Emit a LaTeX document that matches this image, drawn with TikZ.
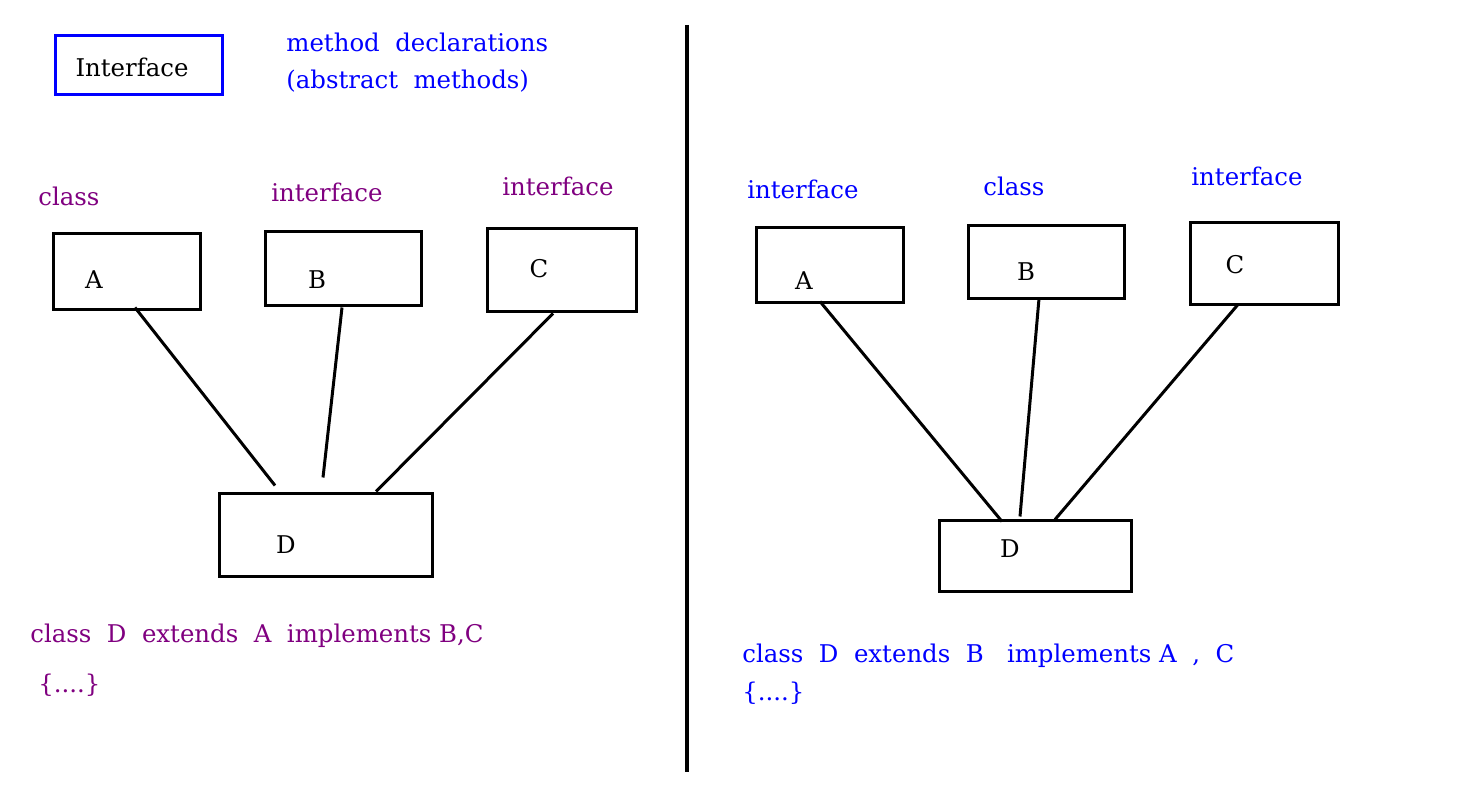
\documentclass[tikz,border=0pt]{standalone}
\usepackage{fontspec}
\setmainfont{DejaVu Serif}
\usetikzlibrary{calc}
\definecolor{clspurple}{RGB}{128,0,128}
\definecolor{ifblue}{RGB}{0,0,255}
\begin{document}
\begin{tikzpicture}[x=0.5pt, y=-0.5pt]
      \tikzstyle{every node}=[inner sep=0pt, font=\fontsize{12.2}{14}\selectfont]
      \tikzstyle{box}=[draw, line width=1.5pt, rectangle]
      \tikzstyle{txt}=[anchor=base west]
      \tikzstyle{conn}=[line width=1.5pt]
      \useasboundingbox (0,0) rectangle (1481,795);

      % legend
      \path (138.5,65.5) node[box, draw=ifblue, minimum width=83.5pt, minimum height=29.5pt] (legend) {};
      \path (132,77) node[anchor=base] (legendtxt) {Interface};
      \path (286,52) node[txt, ifblue] (decl1) {method~~declarations};
      \path (286,89) node[txt, ifblue] (decl2) {(abstract~~methods)};

      % divider
      \coordinate (top) at (687,25);
      \coordinate (bot) at (687,772);
      \draw[line width=1.7pt] (top) -- (bot);

      % left side
      \path (38,206) node[txt, clspurple] (lkA) {class};
      \path (271,202) node[txt, clspurple] (lkB) {interface};
      \path (502,196) node[txt, clspurple] (lkC) {interface};

      \path (126.5,272) node[box, minimum width=73.5pt, minimum height=38pt] (lA) {};
      \path (343,269) node[box, minimum width=78pt, minimum height=37pt] (lB) {};
      \path (561.5,270.5) node[box, minimum width=74.5pt, minimum height=41.5pt] (lC) {};
      \path (325.5,535) node[box, minimum width=106.5pt, minimum height=41pt] (lD) {};

      \path (94,289) node[anchor=base] (lAt) {A};
      \path (317,289) node[anchor=base] (lBt) {B};
      \path (539,278) node[anchor=base] (lCt) {C};
      \path (286,553) node[anchor=base] (lDt) {D};

      \draw[conn]
        ($(lA.south)+(8.5,-4)$) -- ($(lD.north)+(-50.5,-7)$)
        ($(lB.south)+(-1,0)$) -- ($(lD.north)+(-2.5,-15)$)
        ($(lC.south)+(-8.5,0)$) -- ($(lD.north)+(50.5,-1)$);

      \path (30,642) node[txt, clspurple] (lcode) {class~~D~~extends~~A~~implements B,C};
      \path (38,692) node[txt, clspurple] (lbody) {\{....\}};

      % right side
      \path (747,199) node[txt, ifblue] (rkA) {interface};
      \path (983,196) node[txt, ifblue] (rkB) {class};
      \path (1191,186) node[txt, ifblue] (rkC) {interface};

      \path (829.5,265.5) node[box, minimum width=73.5pt, minimum height=37.5pt] (rA) {};
      \path (1046,262.5) node[box, minimum width=78pt, minimum height=36.5pt] (rB) {};
      \path (1264,264) node[box, minimum width=74pt, minimum height=41pt] (rC) {};
      \path (1035,556) node[box, minimum width=96pt, minimum height=35pt] (rD) {};

      \path (804,290) node[anchor=base] (rAt) {A};
      \path (1026,281) node[anchor=base] (rBt) {B};
      \path (1235,274) node[anchor=base] (rCt) {C};
      \path (1010,558) node[anchor=base] (rDt) {D};

      \draw[conn]
        ($(rA.south)+(-9.5,-3)$) -- ($(rD.north)+(-33,2)$)
        ($(rB.south)+(-7,-2)$) -- ($(rD.north)+(-15,-3)$)
        ($(rC.south)+(-26,-2)$) -- ($(rD.north)+(20,0)$);

      \path (742,662) node[txt, ifblue] (rcode) {class~~D~~extends~~B~~~implements A~~,~~C};
      \path (742,700) node[txt, ifblue] (rbody) {\{....\}};
\end{tikzpicture}
\end{document}
